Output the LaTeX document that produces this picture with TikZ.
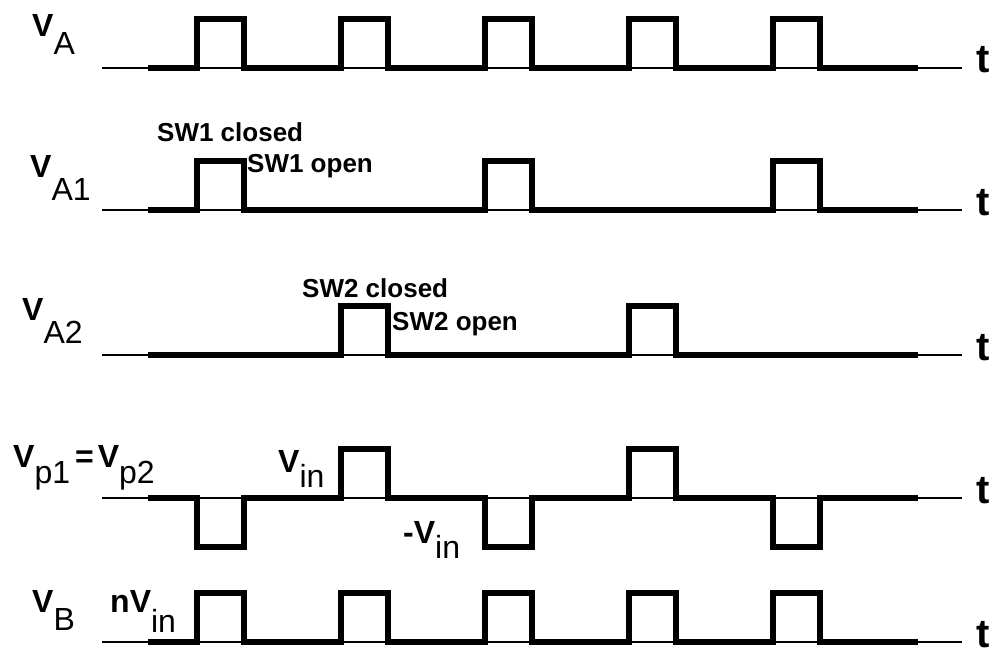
\documentclass[tikz,border=0pt]{standalone}
\usepackage{fontspec}
\setmainfont{Liberation Sans}
\usepackage{tikz}

\newcommand{\low}[2]{\raisebox{-#1pt}{#2}}

\begin{document}
\begin{tikzpicture}[x=1pt,y=-1pt,
  axis/.style={line width=1.5pt},
  wave/.style={line width=5.5pt,line join=miter},
  lbl/.style={anchor=base west,inner sep=0pt,font=\fontsize{32}{32}\selectfont},
  swlbl/.style={anchor=base west,inner sep=0pt,font=\fontsize{26}{26}\selectfont\bfseries},
  tlbl/.style={anchor=base west,inner sep=0pt,font=\fontsize{40}{40}\selectfont\bfseries}]

  \useasboundingbox (0,0) rectangle (995,650);

  \foreach \y/\n in {68/a,210/aone,355/atwo,498/p,642/b}{
    \draw[axis] (102,\y) -- (962,\y);
    \node[tlbl] (t\n) at (976,\y+5) {t};
  }

  \draw[wave] (148,68) foreach \k in {0,...,4}{ -- (197+144*\k,68) -- ++(0,-49) -- ++(47,0) -- ++(0,49)} -- (918,68);
  \draw[wave] (148,210) foreach \k in {0,2,4}{ -- (197+144*\k,210) -- ++(0,-49) -- ++(47,0) -- ++(0,49)} -- (918,210);
  \draw[wave] (148,355) foreach \k in {1,3}{ -- (197+144*\k,355) -- ++(0,-49) -- ++(47,0) -- ++(0,49)} -- (918,355);
  \draw[wave] (148,498) foreach \k/\h in {0/49,1/-49,2/49,3/-49,4/49}{ -- (197+144*\k,498) -- ++(0,\h) -- ++(47,0) -- ++(0,-\h)} -- (918,498);
  \draw[wave] (148,642) foreach \k in {0,...,4}{ -- (197+144*\k,642) -- ++(0,-49) -- ++(47,0) -- ++(0,49)} -- (918,642);

  \node[lbl] (va) at (32,37) {\textbf{V}\low{18}{A}};
  \node[lbl] (vaone) at (30,177) {\textbf{V}\low{23}{A1}};
  \node[lbl] (vatwo) at (22,320) {\textbf{V}\low{23}{A2}};
  \node[lbl] (vp) at (13,467) {\textbf{V}\low{16}{p1}\hspace{5pt}\textbf{=}\hspace{4pt}\textbf{V}\low{16}{p2}};
  \node[lbl] (vb) at (32,612) {\textbf{V}\low{18}{B}};
  \node[lbl] (nvin) at (110,612) {\textbf{nV}\low{20}{in}};
  \node[lbl] (vin) at (278,472) {\textbf{V}\low{15}{in}};
  \node[lbl] (mvin) at (403,543) {\textbf{-V}\low{15}{in}};

  \node[swlbl] (swoneclosed) at (157,142) {SW1 closed};
  \node[swlbl] (swoneopen) at (247,172) {SW1 open};
  \node[swlbl] (swtwoclosed) at (302,297) {SW2 closed};
  \node[swlbl] (swtwoopen) at (392,330) {SW2 open};

\end{tikzpicture}
\end{document}
